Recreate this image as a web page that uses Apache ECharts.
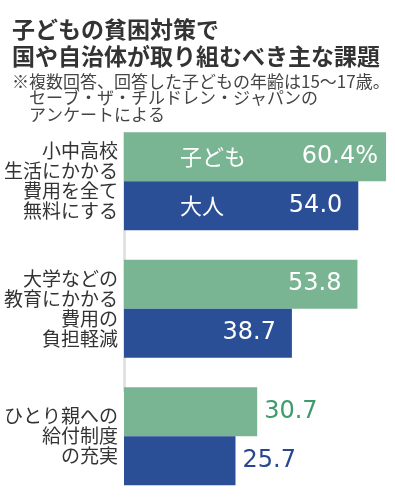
<!DOCTYPE html>
<html>
<head>
<meta charset="utf-8">
<script src="https://cdn.jsdelivr.net/npm/echarts@6/dist/echarts.min.js"></script>
<style>html,body{margin:0;padding:0;background:#fff;}#c{width:395px;height:500px;}</style>
</head>
<body>
<div id="c"></div>
<script>
const titleText = '子どもの貧困対策で\n国や自治体が取り組むべき主な課題';
const noteText = '※複数回答、回答した子どもの年齢は15～17歳。\n　セーブ・ザ・チルドレン・ジャパンの\n　アンケートによる';
const categories = ['小中高校\n生活にかかる\n費用を全て\n無料にする', '大学などの\n教育にかかる\n費用の\n負担軽減', 'ひとり親への\n給付制度\nの充実'];
const seriesNames = ['子ども', '大人'];
const childValues = [60.4, 53.8, 30.7];
const adultValues = [54.0, 38.7, 25.7];

const GREEN = '#79b493', BLUE = '#2b4f97';
const GREEN_TXT = '#3f9a6c', BLUE_TXT = '#28478f';
const JP = '"Noto Sans CJK JP", sans-serif';
const NUM = '"DejaVu Sans", "Noto Sans CJK JP", sans-serif';

function buildData(values, color, txtColor, isChild) {
  return values.map((v, i) => {
    const item = { value: v };
    if (i === values.length - 1) {
      item.label = { position: 'right', color: txtColor, distance: 7 };
    } else if (i === 0 && isChild) {
      item.label = { distance: 8 };
    }
    return item;
  });
}

const chart = echarts.init(document.getElementById('c'), null, { renderer: 'canvas' });
const valueLabel = {
  show: true, position: 'insideRight', distance: 16, color: '#fff',
  fontFamily: NUM, fontSize: 24,
  formatter: p => p.value.toFixed(1) + (p.seriesIndex === 0 && p.dataIndex === 0 ? '%' : '')
};
const nameLabel = {
  show: true, position: [56, '50%'], verticalAlign: 'middle', align: 'left',
  color: '#fff', fontFamily: JP, fontSize: 22,
  formatter: p => p.dataIndex === 0 ? p.seriesName : ''
};
chart.setOption({
  animation: false,
  backgroundColor: '#fff',
  title: {
    text: titleText, subtext: noteText, left: 7, top: 11, itemGap: 3,
    textStyle: { fontFamily: JP, fontSize: 23, fontWeight: 'bold', lineHeight: 27, color: '#333' },
    subtextStyle: { fontFamily: JP, fontSize: 17, lineHeight: 16.5, color: '#444' }
  },
  graphic: [{
    type: 'line', z: -1, shape: { x1: 124.5, y1: 132, x2: 124.5, y2: 392 },
    style: { stroke: '#e2e2e2', lineWidth: 3 }
  }],
  grid: { left: 124, width: 269, top: 117.5, height: 390 },
  xAxis: { type: 'value', min: 0, max: 62, show: false },
  yAxis: [{
    type: 'category', data: categories, inverse: true,
    axisLine: { show: false }, axisTick: { show: false },
    axisLabel: { fontFamily: JP, fontSize: 19, lineHeight: 20, color: '#333', margin: 6 }
  }, {
    type: 'category', data: categories, inverse: true, show: false
  }],
  series: [
    { name: seriesNames[0], type: 'bar', yAxisIndex: 0, barWidth: 49, barGap: '0%',
      itemStyle: { color: GREEN }, label: valueLabel, data: buildData(childValues, GREEN, GREEN_TXT, true) },
    { name: seriesNames[1], type: 'bar', yAxisIndex: 0, barWidth: 49, barGap: '0%',
      itemStyle: { color: BLUE }, label: valueLabel, data: buildData(adultValues, BLUE, BLUE_TXT, false) },
    { name: seriesNames[0], type: 'bar', yAxisIndex: 1, barWidth: 49, barGap: '0%', silent: true,
      itemStyle: { color: 'rgba(0,0,0,0)' }, label: nameLabel, data: childValues, z: 3 },
    { name: seriesNames[1], type: 'bar', yAxisIndex: 1, barWidth: 49, barGap: '0%', silent: true,
      itemStyle: { color: 'rgba(0,0,0,0)' }, label: nameLabel, data: adultValues, z: 3 }
  ]
});
</script>
</body>
</html>
